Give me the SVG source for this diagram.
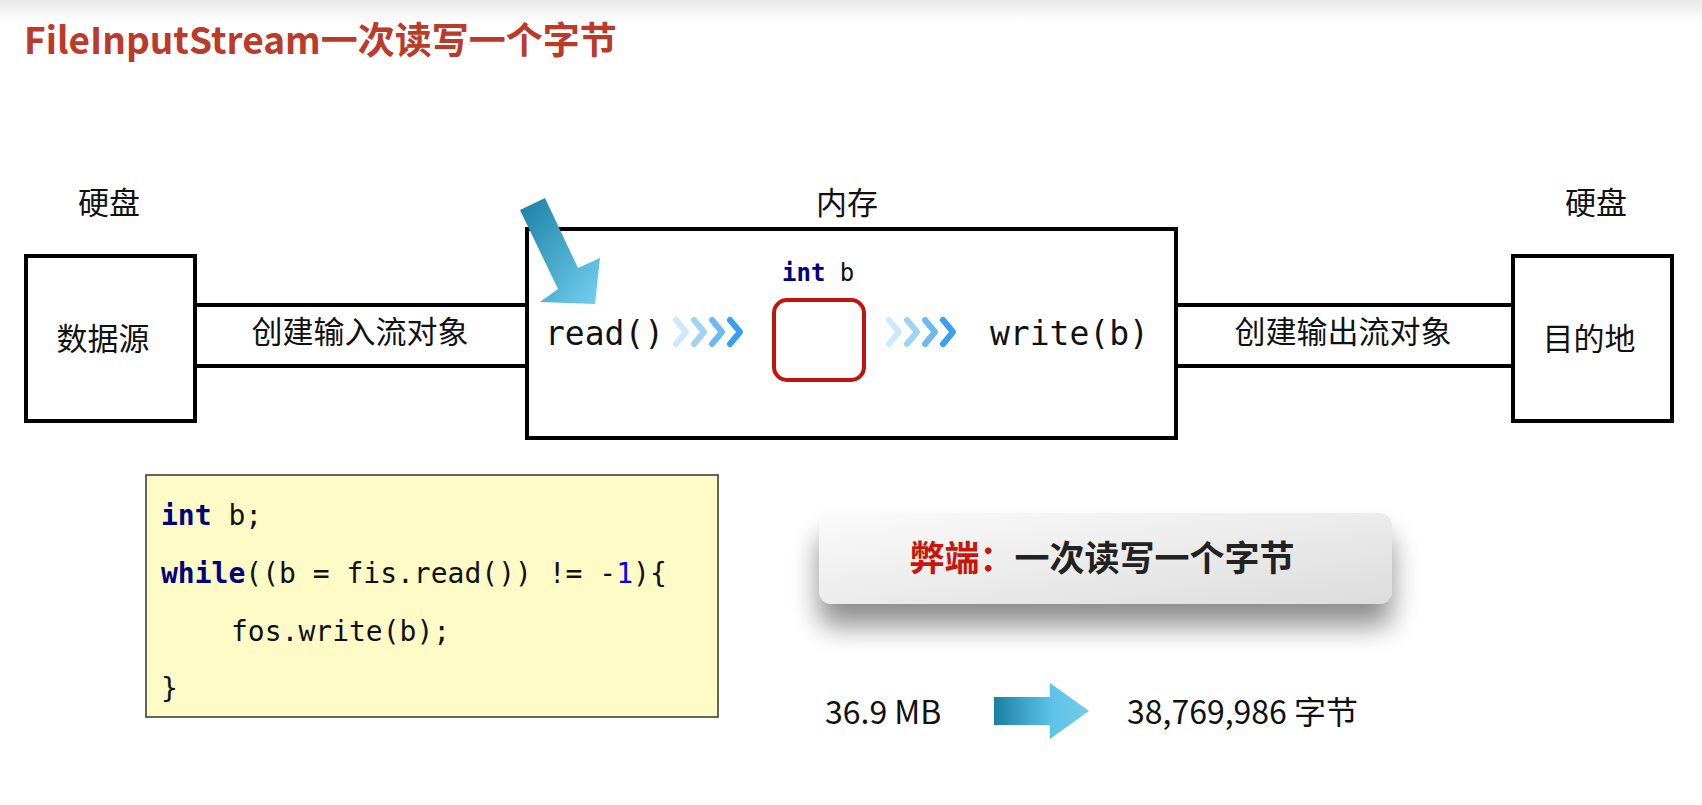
<svg xmlns="http://www.w3.org/2000/svg" width="1702" height="805" viewBox="0 0 1702 805">
<style>
.t{font-family:"Noto Sans CJK SC","Liberation Sans",sans-serif;fill:#111;}
.m{font-family:"DejaVu Sans Mono","Liberation Mono",monospace;fill:#111;}
.box{fill:#fff;stroke:#000;stroke-width:4;}
.ln{stroke:#000;stroke-width:4;}
.kw{fill:#00007f;font-weight:bold;}
.ch{fill:none;stroke-width:6;stroke-linecap:round;stroke-linejoin:round;}
</style>
<defs>
<linearGradient id="top" x1="0" y1="0" x2="0" y2="1"><stop offset="0" stop-color="#e8e8e8"/><stop offset="1" stop-color="#fff"/></linearGradient>
<linearGradient id="ban" x1="0" y1="0" x2="1" y2="1"><stop offset="0" stop-color="#fbfbfb"/><stop offset="1" stop-color="#dcdcdc"/></linearGradient>
<linearGradient id="arr" x1="0" y1="0" x2="1" y2="0"><stop offset="0" stop-color="#1b7fa3"/><stop offset="0.6" stop-color="#5cc3e8"/><stop offset="1" stop-color="#74cbeb"/></linearGradient>
<linearGradient id="arr2" x1="0" y1="0" x2="1" y2="1"><stop offset="0" stop-color="#1b7fa3"/><stop offset="1" stop-color="#74d0f0"/></linearGradient>
<filter id="sh" x="-20%" y="-30%" width="140%" height="200%"><feGaussianBlur in="SourceAlpha" stdDeviation="14"/><feOffset dy="22"/><feComponentTransfer><feFuncA type="linear" slope="0.45"/></feComponentTransfer><feMerge><feMergeNode/><feMergeNode in="SourceGraphic"/></feMerge></filter>
</defs>
<rect x="0" y="0" width="1702" height="805" fill="#fff"/>
<rect x="0" y="0" width="1702" height="22" fill="url(#top)"/>
<text x="24" y="54" class="t" style="fill:#bb3a2a;font-weight:bold;font-size:37px">FileInputStream一次读写一个字节</text>

<g id="connectors">
<line class="ln" x1="195" y1="305" x2="527" y2="305"/>
<line class="ln" x1="195" y1="366" x2="527" y2="366"/>
<text x="360" y="343" class="t" text-anchor="middle" font-size="31">创建输入流对象</text>
<line class="ln" x1="1176" y1="305" x2="1513" y2="305"/>
<line class="ln" x1="1176" y1="366" x2="1513" y2="366"/>
<text x="1343" y="343" class="t" text-anchor="middle" font-size="31">创建输出流对象</text>
</g>

<g id="src">
<text x="109" y="214" class="t" text-anchor="middle" font-size="31">硬盘</text>
<rect class="box" x="26" y="256" width="169" height="165"/>
<text x="103" y="350" class="t" text-anchor="middle" font-size="31">数据源</text>
</g>

<g id="mem">
<text x="847" y="214" class="t" text-anchor="middle" font-size="31">内存</text>
<rect class="box" x="527" y="229" width="649" height="209"/>
<text x="545" y="345" class="m" font-size="33">read()</text>
<text x="782" y="281" class="m" font-size="24"><tspan class="kw">int</tspan> b</text>
<rect x="774" y="300" width="90" height="80" rx="13" fill="#fff" stroke="#c0140c" stroke-width="4"/>
<text x="990" y="345" class="m" font-size="33">write(b)</text>
<g class="ch">
<path d="M676 320l10 12-10 12" stroke="#cfe9fb"/><path d="M694 320l10 12-10 12" stroke="#9fd3f7"/><path d="M712 320l10 12-10 12" stroke="#6bbaf3"/><path d="M730 320l10 12-10 12" stroke="#3a9ff0"/>
<path d="M889 320l10 12-10 12" stroke="#cfe9fb"/><path d="M907 320l10 12-10 12" stroke="#9fd3f7"/><path d="M925 320l10 12-10 12" stroke="#6bbaf3"/><path d="M943 320l10 12-10 12" stroke="#3a9ff0"/>
</g>
<path d="M520 210 L545 198 L578 268 L600 258 L595 304 L540 302 L558 289 Z" fill="url(#arr2)"/>
</g>

<g id="dst">
<text x="1596" y="214" class="t" text-anchor="middle" font-size="31">硬盘</text>
<rect class="box" x="1513" y="256" width="159" height="165"/>
<text x="1589" y="350" class="t" text-anchor="middle" font-size="31">目的地</text>
</g>

<g id="code">
<rect x="146" y="475" width="572" height="242" fill="#fffbc6" stroke="#333" stroke-width="1.5"/>
<text class="m" font-size="28"><tspan x="161" y="525"><tspan class="kw">int</tspan> b;</tspan><tspan x="161" y="583"><tspan class="kw">while</tspan>((b = fis.read()) != -<tspan fill="#0000ff">1</tspan>){</tspan><tspan x="231" y="641">fos.write(b);</tspan><tspan x="161" y="698">}</tspan></text>
</g>

<g id="banner">
<rect x="819" y="513" width="573" height="91" rx="13" fill="url(#ban)" filter="url(#sh)"/>
<text x="1102" y="571" class="t" text-anchor="middle" font-size="35" font-weight="bold"><tspan fill="#c8160c">弊端：</tspan><tspan fill="#222">一次读写一个字节</tspan></text>
</g>

<g id="size">
<text x="825" y="724" class="t" font-size="32">36.9 MB</text>
<path d="M994 697 H1050 V683 L1089 711 L1050 739 V725 H994 Z" fill="url(#arr)"/>
<text x="1127" y="724" class="t" font-size="32">38,769,986 字节</text>
</g>
</svg>
